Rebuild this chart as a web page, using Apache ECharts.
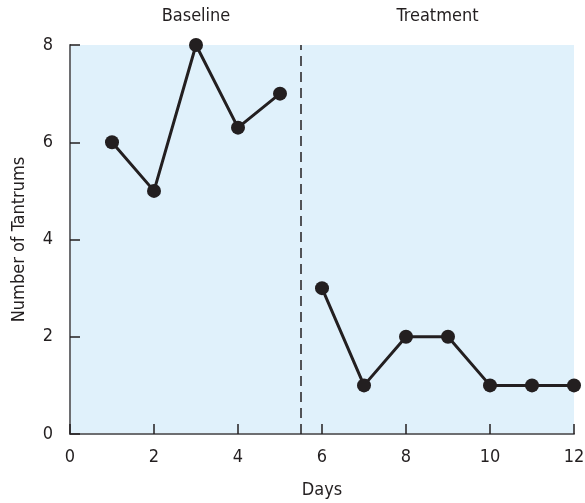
<!DOCTYPE html>
<html><head><meta charset="utf-8">
<script src="https://cdn.jsdelivr.net/npm/echarts@6/dist/echarts.min.js"></script>
<style>html,body{margin:0;padding:0;background:#fff}#c{width:585px;height:503px}</style>
</head><body><div id="c"></div>
<script>
var baselineDays = [1, 2, 3, 4, 5];
var baselineValues = [6, 5, 8, 6.3, 7];
var treatmentDays = [6, 7, 8, 9, 10, 11, 12];
var treatmentValues = [3, 1, 2, 2, 1, 1, 1];
var phaseChangeDay = 5.5;
var phaseLabels = ['Baseline', 'Treatment'];
var phaseLabelDays = [3, 8.75];
var xTicks = [0, 2, 4, 6, 8, 10, 12];
var yTicks = [0, 2, 4, 6, 8];

var FONT = '"Liberation Sans Narrow", "DejaVu Sans Condensed", "Roboto Condensed", sans-serif';
var INK = '#231f20';
function pairs(xs, ys){ return xs.map(function(x,i){return [x, ys[i]];}); }

var chart = echarts.init(document.getElementById('c'));
var option = {
  animation: false,
  grid: {left: 70, right: 11, top: 45, bottom: 69, show: true, backgroundColor: '#e0f1fb', borderWidth: 0,
         containLabel: false, outerBoundsMode: 'none'},
  xAxis: {
    type: 'value', min: 0, max: 12, interval: 2,
    name: 'Days', nameLocation: 'middle', nameGap: 47,
    nameTextStyle: {fontFamily: FONT, fontSize: 18, color: INK},
    axisLine: {show: true, lineStyle: {color: '#6d6e71', width: 2}},
    axisTick: {show: true, inside: true, length: 10, lineStyle: {color: INK, width: 1.5}},
    axisLabel: {fontFamily: FONT, fontSize: 18, color: INK, margin: 14},
    splitLine: {show: false}
  },
  yAxis: {
    type: 'value', min: 0, max: 8, interval: 2,
    name: 'Number of Tantrums', nameLocation: 'middle', nameGap: 42,
    nameTextStyle: {fontFamily: FONT, fontSize: 18, color: INK},
    axisLine: {show: true, lineStyle: {color: '#6d6e71', width: 2}},
    axisTick: {show: true, inside: true, length: 10, lineStyle: {color: INK, width: 1.5}},
    axisLabel: {fontFamily: FONT, fontSize: 18, color: INK, margin: 17},
    splitLine: {show: false}
  },
  series: [
    {type: 'line', data: pairs(baselineDays, baselineValues), symbol: 'circle', symbolSize: 14,
     lineStyle: {color: INK, width: 3}, itemStyle: {color: INK},
     markLine: {silent: true, symbol: 'none', label: {show: false},
       lineStyle: {type: [10, 6], color: INK, width: 1.5},
       data: [{xAxis: phaseChangeDay}]}},
    {type: 'line', data: pairs(treatmentDays, treatmentValues), symbol: 'circle', symbolSize: 14,
     lineStyle: {color: INK, width: 3}, itemStyle: {color: INK}}
  ]
};
chart.setOption(option);
var gfx = phaseLabels.map(function(t, i){
  var p = chart.convertToPixel({gridIndex: 0}, [phaseLabelDays[i], 8]);
  return {type: 'text', x: p[0], y: 16, style: {text: t, fontFamily: FONT, fontSize: 18, fill: INK, align: 'center', verticalAlign: 'middle'}};
});
chart.setOption({graphic: gfx});
</script></body></html>
